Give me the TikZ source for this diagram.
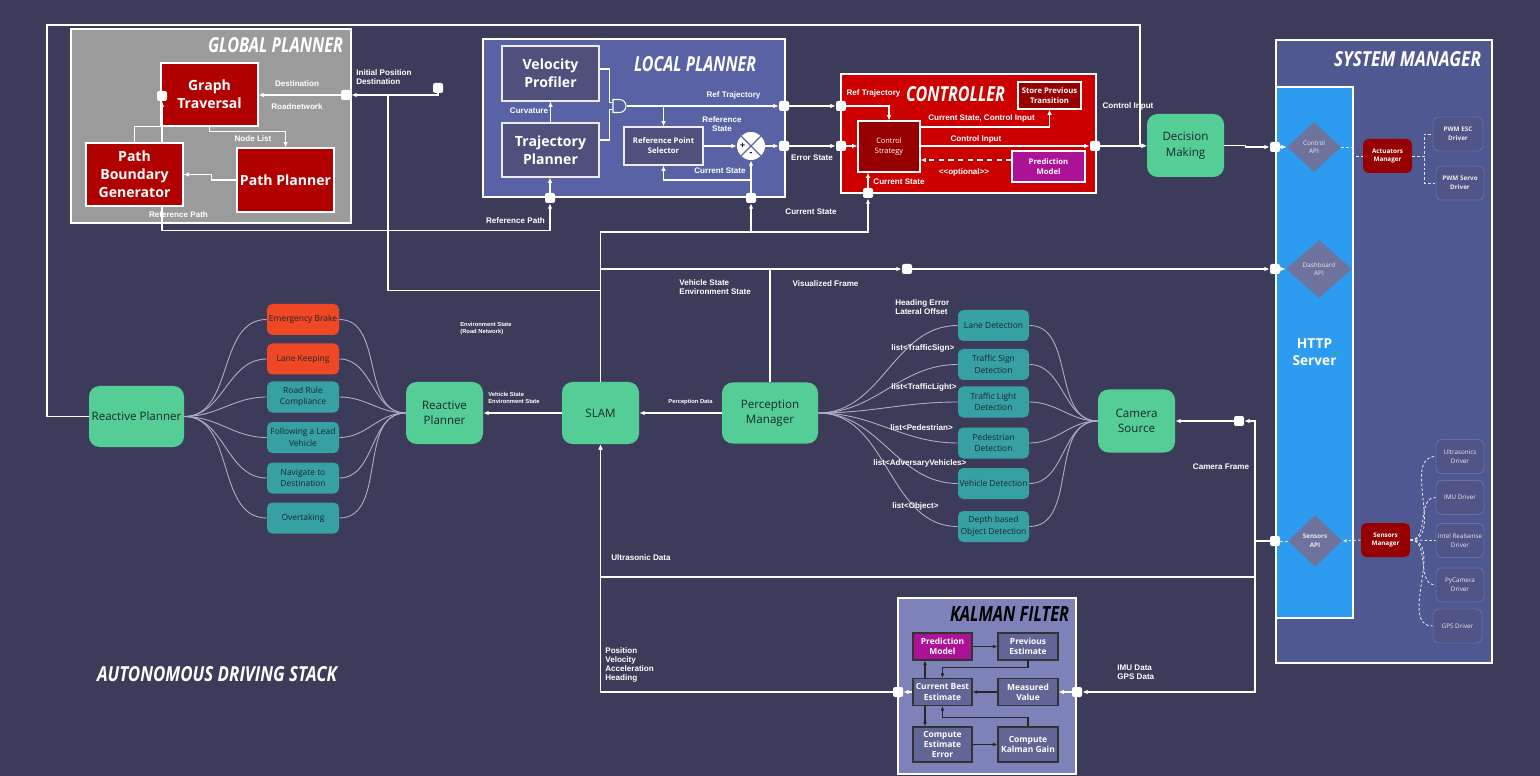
\documentclass[tikz,border=0pt]{standalone}
\usepackage{fontspec}
\setmainfont{Open Sans}
\newfontfamily\lblfont{Liberation Sans}
\usetikzlibrary{arrows.meta, positioning, shapes.geometric, shapes.misc}

\definecolor{bg}{RGB}{60,60,90}
\definecolor{gpgray}{RGB}{155,155,155}
\definecolor{gpred}{RGB}{176,0,0}
\definecolor{lpblue}{RGB}{88,98,165}
\definecolor{lpfill}{RGB}{80,80,125}
\definecolor{ctrlred}{RGB}{205,0,0}
\definecolor{darkred}{RGB}{150,0,0}
\definecolor{predpink}{RGB}{172,18,150}
\definecolor{mint}{RGB}{85,205,150}
\definecolor{tealbox}{RGB}{55,160,162}
\definecolor{alertbox}{RGB}{240,72,36}
\definecolor{smblue}{RGB}{80,88,145}
\definecolor{httpblue}{RGB}{45,155,240}
\definecolor{apigray}{RGB}{110,115,158}
\definecolor{drvfill}{RGB}{80,84,135}
\definecolor{drvline}{RGB}{105,110,165}
\definecolor{kfbg}{RGB}{125,130,185}
\definecolor{kffill}{RGB}{98,102,150}
\definecolor{inktext}{RGB}{25,40,45}
\definecolor{curvegray}{RGB}{175,175,195}

\newcommand\fbig{\fontsize{8}{10.3}\selectfont\bfseries}
\newcommand\fsmall{\fontsize{4.4}{5.7}\selectfont\bfseries}
\newcommand\ftiny{\fontsize{3.6}{5}\selectfont}
\newcommand\fgreen{\fontsize{6.6}{8.8}\selectfont}
\newcommand\fbeh{\fontsize{4.8}{6.6}\selectfont}
\newcommand\fkf{\fontsize{4.8}{5.8}\selectfont\bfseries}
\newcommand\flbl{\lblfont\fontsize{4.6}{5.2}\selectfont\bfseries}
\newcommand\flbltiny{\lblfont\fontsize{3.3}{3.9}\selectfont\bfseries}
\newcommand\bigtitle[2]{\resizebox{#1}{0.3cm}{\bfseries\itshape #2}}

\begin{document}
\begin{tikzpicture}[
x=0.02cm, y=-0.02cm,
wh/.style 2 args={minimum width=#1*0.02cm, minimum height=#2*0.02cm},
panel/.style={draw=white, line width=0.8pt, inner sep=0pt},
boxtitle/.style={text=white, inner sep=0pt},
redbox/.style={draw=white, line width=0.6pt, fill=gpred, text=white, font=\fbig, align=center, inner sep=1pt},
lpbox/.style={draw=white!85!gray, line width=0.6pt, fill=lpfill, text=white, align=center, inner sep=1pt},
darkbox/.style={draw=white, line width=0.6pt, fill=darkred, text=white, font=\fsmall, align=center, inner sep=1pt},
greenbox/.style={fill=mint, rounded corners=6pt, text=inktext, font=\fgreen, align=center, inner sep=1pt},
behav/.style={fill=tealbox, rounded corners=3pt, text=inktext, font=\fbeh, align=center, inner sep=0.5pt, wh={72}{31}},
detect/.style={fill=tealbox, rounded corners=3pt, text=inktext, font=\fbeh, align=center, inner sep=0.5pt, wh={71}{31}},
api/.style={diamond, fill=apigray, inner sep=0pt, text=white!85!gray, font=\ftiny, align=center},
mgrbox/.style={fill=darkred, rounded corners=3pt, text=white, font=\ftiny\bfseries, align=center, inner sep=0.5pt, wh={49}{34}},
drvbox/.style={draw=drvline, line width=0.5pt, fill=drvfill, rounded corners=3pt, text=white!85!gray, font=\ftiny, align=center, inner sep=0.5pt, wh={48}{34}},
kfbox/.style={draw=black!80, line width=0.6pt, fill=kffill, text=white, font=\fkf, align=center, inner sep=0.5pt},
port/.style={fill=white, rounded corners=1.2pt, minimum size=0.2cm, inner sep=0pt},
sumnode/.style={circle, fill=white, minimum size=0.56cm, inner sep=0pt},
wire/.style={draw=white, line width=0.8pt},
arrow/.style={wire, -{Latex[length=3pt, width=2.6pt]}},
dline/.style={draw=white!80!gray, line width=0.5pt, dash pattern=on 1.5pt off 1.2pt},
karrow/.style={draw=black!85, line width=0.6pt, -{Latex[length=2.6pt, width=2.2pt]}},
curve/.style={draw=curvegray, line width=0.5pt},
lbl/.style={text=white, font=\flbl, inner sep=0pt, align=left},
tinylbl/.style={text=white, font=\flbltiny, inner sep=0pt, align=left}
]

% Background
\fill[bg] (0,0) rectangle (1540,776);
\useasboundingbox (0,0) rectangle (1540,776);

% Global planner
\node[panel, fill=gpgray, wh={280}{194}] (gpframe) at (211,126) {};
\node[boxtitle] (gptitle) at (275.5,45.5) {\bigtitle{2.7cm}{GLOBAL PLANNER}};
\node[redbox, wh={97}{63}] (graph) at (209.5,94.5) {Graph\\Traversal};
\node[redbox, wh={97}{63}] (boundary) at (134.5,174.5) {Path\\Boundary\\Generator};
\node[redbox, wh={97}{64}] (pathplan) at (285.5,180) {Path Planner};
\node[port] (gtport) at (162,96) {};
\node[port] (gpport) at (346,95) {};
\node[port] (initport) at (438,88) {};

% Local planner
\node[panel, fill=lpblue, wh={302}{158}] (lpframe) at (634,118) {};
\node[boxtitle] (lptitle) at (695,64.5) {\bigtitle{2.44cm}{LOCAL PLANNER}};
\node[lpbox, font=\fbig, wh={97}{55}] (velprof) at (550.5,73.5) {Velocity\\Profiler};
\node[lpbox, font=\fbig, wh={97}{54}] (trajplan) at (550.5,150) {Trajectory\\Planner};
\node[lpbox, font=\fsmall, wh={79}{38}] (refsel) at (663.5,146) {Reference Point\\Selector};
\node[draw=white, line width=0.6pt, fill=lpblue, rounded rectangle, rounded rectangle left arc=none, inner sep=0pt, wh={13}{13}] (gate) at (619.5,106) {};
\node[sumnode] (sum) at (751,146) {};
\draw[lpblue, line width=0.7pt] (sum.north west) -- (sum.south east) (sum.north east) -- (sum.south west);
\node[font=\fontsize{5}{5}\selectfont\bfseries, inner sep=0pt] (sumplus) at ([xshift=-0.17cm]sum.center) {+};
\node[font=\fontsize{5}{5}\selectfont\bfseries, inner sep=0pt] (summinus) at ([yshift=-0.17cm]sum.center) {-};
\node[port] (lptop) at (784,106) {};
\node[port] (lpmid) at (784,146) {};
\node[port] (lpbot1) at (550,198) {};
\node[port] (lpbot2) at (751,198) {};

% Controller
\node[panel, fill=ctrlred, wh={255}{119}] (ctrlframe) at (968.5,133.5) {};
\node[boxtitle] (ctrltitle) at (955.5,94) {\bigtitle{1.98cm}{CONTROLLER}};
\node[darkbox, font=\fontsize{4.2}{5.6}\selectfont, wh={62}{51}] (strategy) at (889,146.5) {Control\\Strategy};
\node[darkbox, wh={63}{27}] (store) at (1049.5,95.5) {Store Previous\\Transition};
\node[darkbox, fill=predpink, wh={73}{31}] (predm) at (1048.5,166.5) {Prediction\\Model};
\node[port] (cin1) at (841,106) {};
\node[port] (cin2) at (841,146) {};
\node[port] (cbot) at (868,193) {};
\node[port] (cout) at (1095,146) {};
\coordinate (predin) at ([yshift=0.13cm]predm.west);

% Decision making
\node[greenbox, wh={77}{63}] (decision) at (1185.5,145.5) {Decision\\Making};

% System manager
\node[panel, fill=smblue, wh={216}{623}] (smframe) at (1384,351.5) {};
\node[boxtitle] (smtitle) at (1407.5,59.5) {\bigtitle{2.94cm}{SYSTEM MANAGER}};
\node[panel, fill=httpblue, text=white, font=\fontsize{7.8}{9.6}\selectfont\bfseries, align=center, wh={77}{531}] (http) at (1314.5,352.5) {HTTP\\Server};
\fill[green!85!black] (1335,353) circle (0.8pt);
\node[api, wh={54}{50}] (ctrlapi) at (1314,147) {Control\\API};
\node[api, wh={66}{58}] (dashapi) at (1319,269) {Dashboard\\API};
\node[api, font=\ftiny\bfseries, wh={54}{52}] (sensapi) at (1315,541) {Sensors\\API};
\node[port] (ctrlapiport) at (1275,147) {};
\node[port] (dashapiport) at (1275,269) {};
\node[port] (sensapiport) at (1275,541) {};
\node[mgrbox] (actuators) at (1387.5,156) {Actuators\\Manager};
\node[drvbox, font=\ftiny\bfseries, wh={50}{34}] (escdrv) at (1458,134) {PWM ESC\\Driver};
\node[drvbox, font=\ftiny\bfseries] (servodrv) at (1460,183) {PWM Servo\\Driver};
\node[mgrbox] (sensmgr) at (1385.5,540) {Sensors\\Manager};
\node[drvbox] (ultradrv) at (1460,456.5) {Ultrasonics\\Driver};
\node[drvbox] (imudrv) at (1460,497.5) {IMU Driver};
\node[drvbox] (realdrv) at (1460,540.5) {Intel Realsense\\Driver};
\node[drvbox] (pycamdrv) at (1460,585) {PyCamera\\Driver};
\node[drvbox, wh={49}{34}] (gpsdrv) at (1457.5,626) {GPS Driver};

% Reactive planning
\node[greenbox, wh={95}{61}] (rpleft) at (136.5,416.5) {Reactive Planner};
\node[behav, fill=alertbox] (ebrake) at (303,319.5) {Emergency Brake};
\node[behav, fill=alertbox] (lanekeep) at (303,359) {Lane Keeping};
\node[behav] (roadrule) at (303,397) {Road Rule\\Compliance};
\node[behav] (follow) at (303,437.5) {Following a Lead\\Vehicle};
\node[behav] (navigate) at (303,478) {Navigate to\\Destination};
\node[behav] (overtake) at (303,518) {Overtaking};
\node[greenbox, wh={77}{62}] (rpright) at (444.5,413) {Reactive\\Planner};

% SLAM and perception
\node[greenbox, wh={77}{62}] (slam) at (600.5,413) {SLAM};
\node[greenbox, wh={96}{61}] (percep) at (770,413) {Perception\\Manager};
\node[detect] (lanedet) at (993.5,325.5) {Lane Detection};
\node[detect] (signdet) at (993.5,364.5) {Traffic Sign\\Detection};
\node[detect] (lightdet) at (993.5,402) {Traffic Light\\Detection};
\node[detect] (peddet) at (993.5,443) {Pedestrian\\Detection};
\node[detect] (vehdet) at (993.5,483.5) {Vehicle Detection};
\node[detect] (depthdet) at (993.5,526.5) {Depth based\\Object Detection};
\node[greenbox, wh={77}{63}] (camera) at (1136.5,421) {Camera\\Source};
\node[port] (camport) at (1239,421) {};
\node[port] (dashport) at (907,269) {};

% Kalman filter
\node[panel, fill=kfbg, wh={178}{176}] (kfframe) at (987,686) {};
\node[boxtitle, text=black] (kftitle) at (1009.5,613.5) {\bigtitle{2.38cm}{KALMAN FILTER}};
\node[kfbox, fill=predpink, wh={59}{27}] (kfpred) at (942.5,646.5) {Prediction\\Model};
\node[kfbox, wh={60}{27}] (kfprev) at (1028,646.5) {Previous\\Estimate};
\node[kfbox, wh={59}{27}] (kfbest) at (942.5,692) {Current Best\\Estimate};
\node[kfbox, wh={60}{27}] (kfmeas) at (1028,692) {Measured\\Value};
\node[kfbox, wh={59}{35}] (kferr) at (942.5,744.5) {Compute\\Estimate\\Error};
\node[kfbox, wh={60}{35}] (kfgain) at (1028,744.5) {Compute\\Kalman Gain};
\node[port] (kfleft) at (898,692) {};
\node[port] (kfright) at (1077,692) {};

% Stack title
\node[boxtitle] (stacktitle) at (217,674.5) {\bigtitle{4.8cm}{AUTONOMOUS DRIVING STACK}};

% Reactive planner to decision making
\coordinate (topleft) at (47,25);
\coordinate (topright) at (1140,25);
\draw[arrow] (rpleft.west) -| (topleft) -- (topright) |- (decision.west);

% Global planner connections
\coordinate (initjoin) at (388,95);
\draw[arrow] (initport) |- (gpport);
\draw[arrow] (gpport) -- (graph.east |- gpport);
\draw[wire] (slam.north) ++(0,-91) -| (initjoin);
\draw[arrow] (graph.south) -- ++(0,5) -| (pathplan.north);
\draw[arrow] (pathplan.west) -- ++(-25,0) |- (boundary.east);
\draw[arrow] (boundary.north -| gtport) -- (gtport);
\draw[wire] (boundary.north) |- (graph.south west);
\draw[arrow] (boundary.south -| gtport) -- ++(0,24) -| (lpbot1);
\draw[arrow] (lpbot1) -- (trajplan.south -| lpbot1);

% Local planner connections
\draw[arrow] (trajplan.north) -- (velprof.south);
\draw[wire] ([yshift=0.09cm]velprof.east) -- ++(10,0) |- ([yshift=0.07cm]gate.west);
\draw[wire] ([yshift=0.2cm]trajplan.east) -- ++(10,0) |- ([yshift=-0.07cm]gate.west);
\draw[arrow] (gate.east) -- (lptop);
\draw[arrow] (refsel.north |- lptop) -- (refsel.north);
\draw[arrow] (refsel.east) -- (sum.west);
\draw[arrow] (sum.east) -- (lpmid);
\draw[arrow] (lpbot2) -- (sum.south);
\draw[arrow] (lpbot2) ++(0,-18) -| (refsel.south);
\draw[arrow] (lptop) -- (cin1);
\draw[arrow] (lpmid) -- (cin2);

% Controller connections
\draw[arrow] (cin1) -| (strategy.north);
\draw[arrow] (cin2) -- (strategy.west |- cin2);
\draw[arrow] (cbot) -- (strategy.south -| cbot);
\draw[arrow] ([yshift=0.39cm]strategy.east) -| (store.south);
\draw[arrow] (strategy.east |- cout) -- (cout);
\draw[arrow, dash pattern=on 3pt off 2.5pt] (predin) -- (strategy.east |- predin);
\draw[arrow] (cout) -- (decision.west |- cout);
\draw[arrow] (decision.east) -- ++(21,0) |- (ctrlapiport);

% SLAM outputs
\coordinate (bus) at (600.5,232);
\draw[arrow] (slam.north) -- (bus) -| (cbot);
\draw[arrow] (bus -| lpbot2) -- (lpbot2);
\draw[arrow] (slam.north |- dashport) -- (dashport);
\draw[arrow] (dashport) -- (dashapiport);
\draw[wire] (percep.north) -- (percep.north |- dashport);
\draw[arrow] (percep.west) -- (slam.east);
\draw[arrow] (slam.west) -- (rpright.east);

% Behaviours and detections
\foreach \b in {ebrake, lanekeep, roadrule, follow, navigate, overtake} {
  \draw[curve] (rpleft.east) to[out=0, in=180] (\b.west);
  \draw[curve] (rpright.west) to[out=180, in=0] (\b.east);
}
\foreach \d in {lanedet, signdet, lightdet, peddet, vehdet, depthdet} {
  \draw[curve] (percep.east) to[out=0, in=180] (\d.west);
  \draw[curve] (camera.west) to[out=180, in=0] (\d.east);
}

% Sensor data
\coordinate (sbus) at (1255,541);
\draw[wire] (sensapiport) -- (sbus);
\draw[arrow] (sbus) |- (camport);
\draw[arrow] (camport) -- (camera.east);
\draw[arrow] (sbus) |- (kfright);
\draw[arrow] (sbus) ++(0,36) -| (slam.south);
\draw[arrow] (kfbest.west) -- (kfleft);
\draw[arrow] (kfleft) -| (slam.south);
\draw[arrow] (kfright) -- (kfmeas.east);

% System manager links
\draw[arrow] (ctrlapiport) -- (ctrlapi.west);
\draw[arrow] (dashapiport) -- (dashapi.west);
\draw[dline] (sensapiport) -- (sensapi.west);
\draw[dline, -{Latex[length=2.4pt, width=2pt]}] (sensmgr.west) -- (sensapi.east);
\draw[dline] (ctrlapi.east) -- ++(11,0) |- (actuators.west);
\draw[dline] (actuators.east) -- ++(12,0) |- (escdrv.west);
\draw[dline] (actuators.east) -- ++(12,0) |- (servodrv.west);
\foreach \d in {ultradrv, imudrv, realdrv, pycamdrv, gpsdrv}
  \draw[dline] (sensmgr.east) to[out=0, in=180] (\d.west);

% Kalman filter loop
\draw[karrow] (kfpred.east) -- (kfprev.west);
\draw[karrow] (kfprev.south) -- ++(0,7) -| (kfbest.north);
\draw[karrow] ([xshift=-0.35cm]kfbest.north) -- ([xshift=-0.35cm]kfpred.south);
\draw[karrow] (kfmeas.west) -- (kfbest.east);
\draw[karrow] ([xshift=-0.35cm]kfbest.south) -- ([xshift=-0.35cm]kferr.north);
\draw[karrow] (kferr.east) -- (kfgain.west);
\draw[karrow] (kfgain.north) -- ++(0,-9) -| (kfbest.south);

% Labels
\node[lbl] (ldest) at (297,84) {Destination};
\node[lbl] (lroad) at (297,107) {Roadnetwork};
\node[lbl, anchor=west] (linit) at (356,77.5) {Initial Position\\Destination};
\node[lbl] (lnodes) at (253,139) {Node List};
\node[lbl] (lref1) at (178.5,215) {Reference Path};
\node[lbl] (lref2) at (515.5,221) {Reference Path};
\node[lbl] (lcurv) at (529,111) {Curvature};
\node[lbl] (ltraj1) at (733.5,95) {Ref Trajectory};
\node[lbl, align=center] (lrefstate) at (722,124) {Reference\\State};
\node[lbl] (lcur1) at (720,171) {Current State};
\node[lbl] (lerr) at (812,158) {Error State};
\node[lbl] (lcur2) at (811,212) {Current State};
\node[lbl] (ltraj2) at (873.5,93) {Ref Trajectory};
\node[lbl] (lstore) at (981.5,118) {Current State, Control Input};
\node[lbl] (lctrl1) at (976,139) {Control Input};
\node[lbl] (lopt) at (964,172) {<<optional>>};
\node[lbl] (lcur3) at (899,182) {Current State};
\node[lbl] (lctrl2) at (1128,106) {Control Input};
\node[lbl, anchor=west] (lvehicle) at (679,287.5) {Vehicle State\\Environment State};
\node[lbl] (lvis) at (825.5,284) {Visualized Frame};
\node[lbl, anchor=west] (lheading) at (895,307.5) {Heading Error\\Lateral Offset};
\node[lbl, anchor=west] (lsign) at (891,348) {list<TrafficSign>};
\node[lbl, anchor=west] (llight) at (891,387) {list<TrafficLight>};
\node[lbl, anchor=west] (lped) at (890,428) {list<Pedestrian>};
\node[lbl, anchor=west] (ladv) at (873,463) {list<AdversaryVehicles>};
\node[lbl, anchor=west] (lobj) at (892,506) {list<Object>};
\node[tinylbl] (lpercdata) at (690.5,402) {Perception Data};
\node[lbl, anchor=west] (lultra) at (611,558) {Ultrasonic Data};
\node[tinylbl, anchor=west] (lenv) at (460,328.5) {Environment State\\(Road Network)};
\node[tinylbl, anchor=west] (lvstate) at (488,398) {Vehicle State\\Environment State};
\node[lbl] (lcam) at (1221,467) {Camera Frame};
\node[lbl, anchor=north west] (lpos) at (605,647) {Position\\Velocity\\Acceleration\\Heading};
\node[lbl, anchor=west] (limu) at (1117,672.5) {IMU Data\\GPS Data};

\end{tikzpicture}
\end{document}
